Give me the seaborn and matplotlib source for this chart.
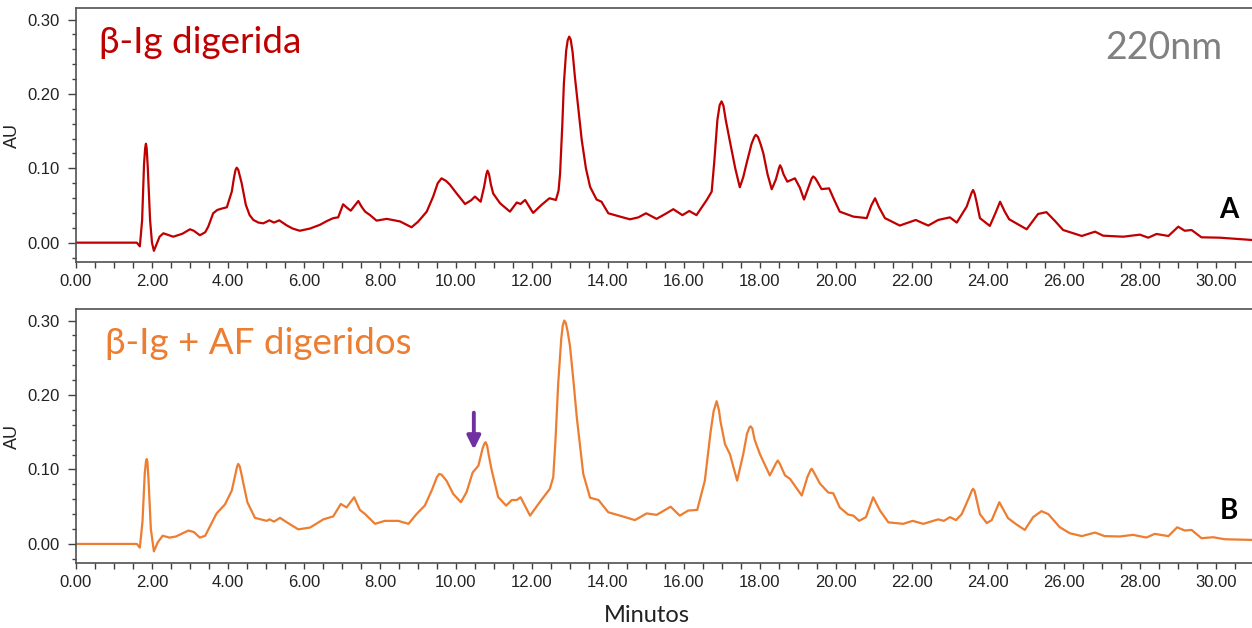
import numpy as np
import pandas as pd
import matplotlib as mpl
import matplotlib.pyplot as plt
import seaborn as sns
from matplotlib.ticker import MultipleLocator, FormatStrFormatter

# chromatogram A: digested b-lg (time in min, absorbance in AU)
time_a = [0.00, 1.60, 1.68, 1.74, 1.79, 1.82, 1.84, 1.86, 1.89, 1.95, 2.00, 2.05, 2.12, 2.20, 2.30, 2.56,
          2.80, 3.00, 3.10, 3.26, 3.40, 3.48, 3.61, 3.72, 3.83, 3.97, 4.10, 4.16, 4.20, 4.23, 4.27, 4.31,
          4.36, 4.47, 4.57, 4.67, 4.80, 4.93, 5.09, 5.21, 5.35, 5.54, 5.70, 5.89, 6.16, 6.42, 6.60, 6.77,
          6.90, 7.03, 7.13, 7.23, 7.43, 7.52, 7.61, 7.74, 7.91, 8.18, 8.53, 8.70, 8.83, 9.00, 9.23, 9.40,
          9.52, 9.62, 9.74, 9.84, 10.02, 10.24, 10.40, 10.50, 10.65, 10.74, 10.80, 10.83, 10.87, 10.92,
          10.98, 11.16, 11.42, 11.60, 11.70, 11.82, 12.03, 12.25, 12.46, 12.63, 12.70, 12.74, 12.80,
          12.84, 12.90, 12.94, 12.98, 13.02, 13.07, 13.13, 13.22, 13.31, 13.42, 13.53, 13.70, 13.83,
          14.01, 14.32, 14.58, 14.80, 15.00, 15.28, 15.54, 15.72, 15.96, 16.14, 16.33, 16.60, 16.73,
          16.80, 16.84, 16.88, 16.94, 16.99, 17.04, 17.10, 17.21, 17.35, 17.47, 17.56, 17.65, 17.78,
          17.85, 17.89, 17.95, 18.02, 18.09, 18.20, 18.31, 18.42, 18.50, 18.53, 18.57, 18.62, 18.72,
          18.92, 19.05, 19.16, 19.28, 19.36, 19.40, 19.45, 19.50, 19.62, 19.82, 19.95, 20.10, 20.46,
          20.81, 20.93, 21.03, 21.13, 21.29, 21.68, 22.10, 22.43, 22.69, 23.00, 23.18, 23.44, 23.57,
          23.61, 23.65, 23.70, 23.79, 24.05, 24.20, 24.32, 24.44, 24.56, 25.02, 25.32, 25.54, 25.75,
          25.98, 26.47, 26.82, 27.03, 27.56, 28.00, 28.22, 28.44, 28.75, 29.01, 29.18, 29.36, 29.62,
          30.10, 30.95]
au_a = [0.000, 0.000, -0.005, 0.030, 0.105, 0.127, 0.133, 0.127, 0.100, 0.030, 0.000, -0.011, -0.002,
        0.008, 0.0126, 0.008, 0.012, 0.018, 0.016, 0.010, 0.014, 0.0215, 0.0395, 0.044, 0.0457, 0.0476,
        0.0686, 0.088, 0.098, 0.1008, 0.098, 0.090, 0.080, 0.0507, 0.037, 0.0305, 0.027, 0.026, 0.030,
        0.027, 0.030, 0.0234, 0.019, 0.016, 0.019, 0.024, 0.029, 0.033, 0.034, 0.0516, 0.047, 0.043,
        0.056, 0.048, 0.0417, 0.037, 0.0296, 0.032, 0.0285, 0.024, 0.0207, 0.028, 0.0417, 0.062, 0.080,
        0.0865, 0.083, 0.078, 0.066, 0.052, 0.057, 0.062, 0.055, 0.075, 0.092, 0.0968, 0.092, 0.078,
        0.066, 0.053, 0.0417, 0.054, 0.052, 0.0574, 0.040, 0.0507, 0.0597, 0.0574, 0.070, 0.093, 0.160,
        0.214, 0.258, 0.272, 0.277, 0.273, 0.256, 0.223, 0.180, 0.138, 0.100, 0.075, 0.058, 0.055,
        0.0395, 0.035, 0.0314, 0.034, 0.0395, 0.032, 0.0395, 0.045, 0.037, 0.0426, 0.037, 0.0574,
        0.0686, 0.110, 0.138, 0.165, 0.185, 0.190, 0.184, 0.165, 0.136, 0.100, 0.0745, 0.088, 0.107,
        0.133, 0.142, 0.145, 0.142, 0.132, 0.120, 0.092, 0.0718, 0.085, 0.100, 0.104, 0.100, 0.092,
        0.082, 0.0865, 0.074, 0.058, 0.075, 0.086, 0.089, 0.087, 0.083, 0.072, 0.073, 0.058, 0.0417,
        0.035, 0.033, 0.050, 0.0597, 0.048, 0.033, 0.023, 0.0305, 0.023, 0.0305, 0.034, 0.027, 0.0484,
        0.067, 0.0708, 0.066, 0.055, 0.033, 0.0225, 0.040, 0.055, 0.042, 0.0314, 0.018, 0.0386, 0.041,
        0.030, 0.017, 0.009, 0.0148, 0.0094, 0.008, 0.0108, 0.0067, 0.0117, 0.009, 0.0215, 0.016, 0.017,
        0.0072, 0.0067, 0.0036]

# chromatogram B: digested b-lg + AF
time_b = [0.00, 1.60, 1.68, 1.75, 1.81, 1.84, 1.86, 1.88, 1.91, 1.97, 2.05, 2.15, 2.28, 2.46, 2.63,
          2.96, 3.10, 3.26, 3.40, 3.70, 3.92, 4.10, 4.20, 4.24, 4.27, 4.31, 4.35, 4.39, 4.51, 4.71,
          5.02, 5.09, 5.21, 5.37, 5.59, 5.85, 6.16, 6.51, 6.77, 6.97, 7.12, 7.32, 7.47, 7.61, 7.87,
          8.13, 8.48, 8.75, 8.96, 9.18, 9.36, 9.50, 9.56, 9.62, 9.75, 9.93, 10.13, 10.28, 10.44, 10.59,
          10.70, 10.75, 10.78, 10.82, 10.86, 10.94, 11.11, 11.32, 11.47, 11.60, 11.70, 11.95, 12.21,
          12.47, 12.56, 12.62, 12.69, 12.77, 12.81, 12.85, 12.89, 12.94, 13.00, 13.09, 13.18, 13.35,
          13.53, 13.75, 14.01, 14.32, 14.71, 15.02, 15.28, 15.65, 15.89, 16.11, 16.35, 16.55, 16.70,
          16.78, 16.86, 16.92, 16.96, 17.08, 17.21, 17.40, 17.56, 17.66, 17.72, 17.75, 17.80, 17.86,
          18.00, 18.26, 18.43, 18.47, 18.52, 18.66, 18.79, 19.10, 19.25, 19.33, 19.36, 19.40, 19.58,
          19.80, 19.93, 20.10, 20.32, 20.46, 20.61, 20.79, 20.98, 21.16, 21.38, 21.77, 22.02, 22.30,
          22.69, 22.84, 23.00, 23.16, 23.31, 23.50, 23.58, 23.61, 23.65, 23.70, 23.79, 23.97, 24.10,
          24.30, 24.53, 24.75, 24.97, 25.19, 25.41, 25.59, 25.89, 26.15, 26.47, 26.82, 27.07, 27.47,
          27.82, 28.17, 28.39, 28.75, 28.98, 29.18, 29.36, 29.62, 29.93, 30.23, 30.95]
au_b = [0.000, 0.000, -0.005, 0.030, 0.095, 0.110, 0.114, 0.110, 0.085, 0.020, -0.010, 0.002, 0.011,
        0.0085, 0.010, 0.018, 0.016, 0.0085, 0.011, 0.041, 0.053, 0.0716, 0.095, 0.104, 0.1075, 0.104,
        0.095, 0.085, 0.056, 0.035, 0.031, 0.033, 0.030, 0.035, 0.0277, 0.0196, 0.022, 0.033, 0.037,
        0.0537, 0.049, 0.0627, 0.0457, 0.040, 0.027, 0.031, 0.031, 0.027, 0.040, 0.0515, 0.0716, 0.090,
        0.094, 0.093, 0.085, 0.067, 0.056, 0.0697, 0.096, 0.105, 0.128, 0.135, 0.1366, 0.132, 0.120,
        0.099, 0.063, 0.0515, 0.059, 0.059, 0.0627, 0.038, 0.0565, 0.074, 0.0895, 0.140, 0.215, 0.275,
        0.293, 0.300, 0.297, 0.285, 0.266, 0.220, 0.170, 0.094, 0.062, 0.059, 0.0425, 0.038, 0.032,
        0.041, 0.039, 0.050, 0.038, 0.0448, 0.0457, 0.085, 0.150, 0.178, 0.1917, 0.180, 0.165, 0.134,
        0.1205, 0.085, 0.1205, 0.148, 0.156, 0.158, 0.155, 0.140, 0.1205, 0.092, 0.109, 0.112, 0.108,
        0.092, 0.0875, 0.065, 0.090, 0.099, 0.101, 0.098, 0.081, 0.069, 0.068, 0.049, 0.0395, 0.038,
        0.031, 0.036, 0.0627, 0.0448, 0.029, 0.027, 0.031, 0.027, 0.033, 0.031, 0.036, 0.032, 0.040,
        0.062, 0.072, 0.074, 0.071, 0.060, 0.040, 0.028, 0.032, 0.056, 0.0346, 0.0262, 0.0188, 0.036,
        0.044, 0.040, 0.0225, 0.0145, 0.0105, 0.0153, 0.0105, 0.010, 0.0122, 0.0086, 0.0135, 0.0105,
        0.0223, 0.018, 0.0188, 0.0077, 0.009, 0.0063, 0.0054]

# purple arrow in panel B (time, from AU, to AU)
arrow_t = 10.47
arrow_from = 0.180
arrow_to = 0.123

panel_titles = ['β-Ig digerida', 'β-Ig + AF digeridos']
panel_letters = ['A', 'B']
colors = ['#C00000', '#ED7D31']

sns.set_style('ticks')
plt.rcParams['font.family'] = ['Liberation Sans', 'DejaVu Sans']

fig = plt.figure(figsize=(12.52, 6.28), dpi=100)
ax_a = fig.add_axes([76/1252, 1 - 262/628, 1 - 76/1252, 254/628])
ax_b = fig.add_axes([76/1252, 1 - 563.3/628, 1 - 76/1252, 254.3/628])

df_a = pd.DataFrame({'t': time_a, 'au': au_a})
df_b = pd.DataFrame({'t': time_b, 'au': au_b})

title_x = [0.0196, 0.0245]
for ax, df, col, title, letter, tx in zip([ax_a, ax_b], [df_a, df_b], colors, panel_titles,
                                          panel_letters, title_x):
    sns.lineplot(data=df, x='t', y='au', ax=ax, color=col, lw=1.6, sort=False, estimator=None,
                 solid_joinstyle='round')
    ax.set_xlim(0, 30.95)
    ax.set_ylim(-0.026, 0.3155)
    ax.xaxis.set_major_locator(MultipleLocator(2))
    ax.xaxis.set_minor_locator(MultipleLocator(0.5))
    ax.yaxis.set_major_locator(MultipleLocator(0.1))
    ax.yaxis.set_minor_locator(MultipleLocator(0.02))
    ax.xaxis.set_major_formatter(FormatStrFormatter('%.2f'))
    ax.yaxis.set_major_formatter(FormatStrFormatter('%.2f'))
    ax.tick_params(which='both', width=1, color='#404040', labelsize=12, labelcolor='#222222')
    ax.tick_params(axis='x', which='both', length=4, pad=4.5)
    ax.tick_params(axis='y', which='major', length=5.5, pad=6)
    ax.tick_params(axis='y', which='minor', length=3)
    for s in ['left', 'top', 'bottom']:
        ax.spines[s].set_color('#505050')
        ax.spines[s].set_linewidth(1.2)
    ax.spines['right'].set_visible(False)
    ax.set_xlabel('')
    ax.set_ylabel('AU', fontsize=13, color='#222222', labelpad=5)
    ax.text(tx, 0.823, title, transform=ax.transAxes, color=col, fontsize=26.5,
            family=['Lato', 'DejaVu Sans'], ha='left', va='baseline')
    ax.text(0.980, 0.175, letter, transform=ax.transAxes, color='black', fontsize=20,
            fontweight='bold', family=['Lato', 'DejaVu Sans'], ha='center', va='baseline')

ax_a.text(0.975, 0.80, '220nm', transform=ax_a.transAxes, color='#808080', fontsize=27,
          family=['Lato', 'DejaVu Sans'], ha='right', va='baseline')

ax_b.annotate('', xy=(arrow_t, arrow_to), xytext=(arrow_t, arrow_from),
              arrowprops=dict(arrowstyle='-|>', color='#7030A0', lw=2.8, mutation_scale=20))

fig.text(647/1252, 1 - 622/628, 'Minutos', fontsize=17, color='#222222',
         family=['Lato', 'DejaVu Sans'], ha='center', va='baseline')

plt.savefig('out.png', dpi=100)
